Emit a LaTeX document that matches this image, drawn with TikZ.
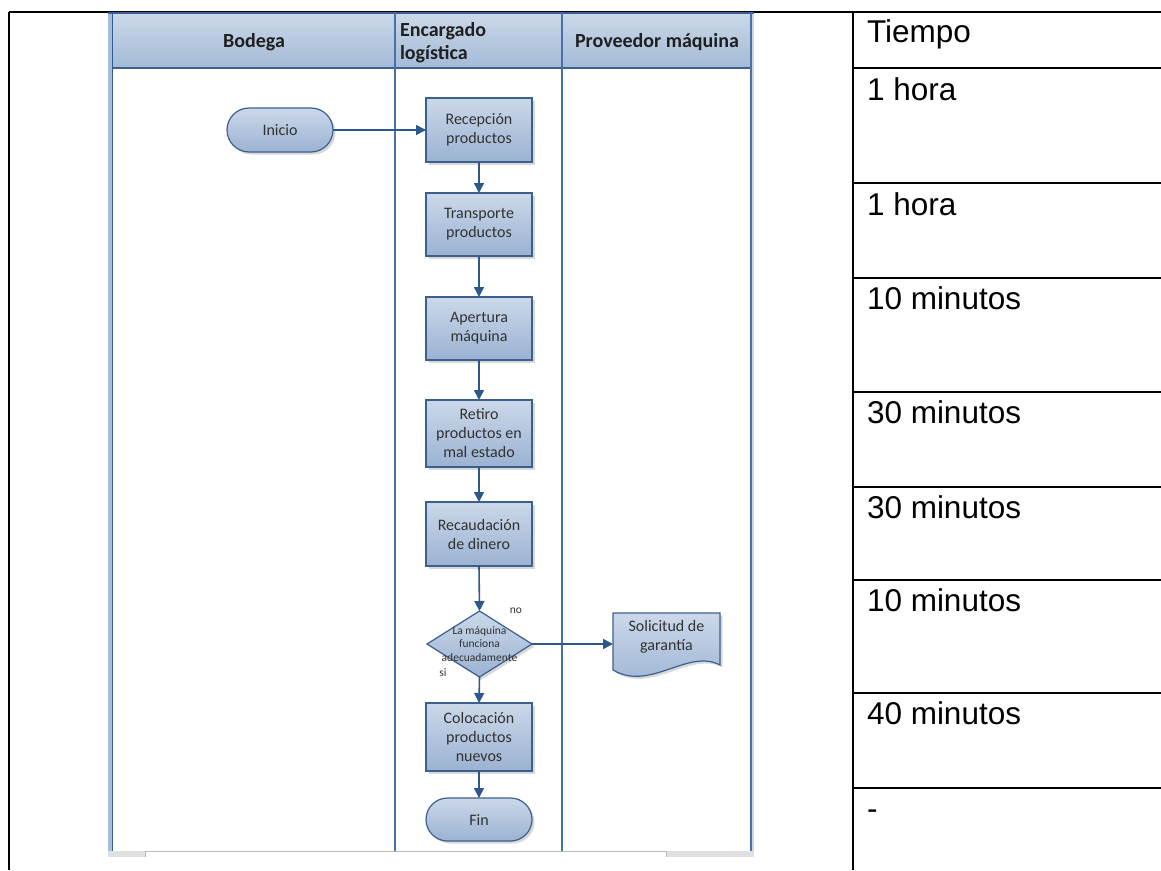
\documentclass[tikz,border=0pt]{standalone}
\usepackage{fontspec}
\setmainfont{Liberation Sans}
\newfontfamily\diagfont{Carlito}
\usetikzlibrary{shapes.geometric,shapes.misc,arrows.meta,shadows}

\definecolor{lanecol}{RGB}{74,112,168}
\definecolor{laneedge}{RGB}{47,90,148}
\definecolor{bandcol}{RGB}{168,189,217}
\definecolor{hdtop}{RGB}{203,216,232}
\definecolor{hdbot}{RGB}{163,186,214}
\definecolor{hdline}{RGB}{60,96,145}
\definecolor{boxtop}{RGB}{203,216,233}
\definecolor{boxbot}{RGB}{155,178,210}
\definecolor{boxline}{RGB}{60,96,142}
\definecolor{flowcol}{RGB}{46,88,140}
\definecolor{txtcol}{RGB}{50,50,50}
\definecolor{bargray}{RGB}{224,224,224}

\begin{document}
\begin{tikzpicture}[x=1pt,y=-1pt,
  every node/.style={inner sep=0pt,outer sep=0pt},
  lane/.style={draw=lanecol,line width=1.2pt},
  grid/.style={draw=black,line width=2pt},
  cell/.style={anchor=base west,font=\fontsize{31.5}{38}\selectfont},
  head/.style={font=\diagfont\bfseries\fontsize{20}{23}\selectfont,text=black!88},
  fillbox/.style={top color=boxtop,bottom color=boxbot,draw=boxline,line width=1.2pt,
     drop shadow={shadow xshift=2.5pt,shadow yshift=-2.5pt,opacity=0.3}},
  boxtext/.style={text=txtcol,font=\diagfont\fontsize{16}{19}\selectfont},
  procbox/.style={fillbox,boxtext,rectangle,minimum width=106pt,align=center},
  termbox/.style={fillbox,boxtext,rounded rectangle,minimum width=106pt,minimum height=44pt},
  decbox/.style={fillbox,diamond,minimum width=105pt,minimum height=66pt},
  smalltext/.style={text=txtcol,font=\diagfont\fontsize{11.5}{13.5}\selectfont},
  flow/.style={draw=flowcol,line width=1.6pt,-{Triangle[length=10pt,width=10pt]}}]

\useasboundingbox (0,0) rectangle (1161,870);

% outer table frame and time column
\draw[grid] (9,12) -- (1161,12);
\draw[grid] (9,12) -- (9,870);
\draw[grid] (853,12) -- (853,870);
\foreach \yy in {68,183,278,392,487,580,693,788}
  \draw[grid] (853,\yy) -- (1161,\yy);

\node[cell] (t0) at (867,42)  {Tiempo};
\node[cell] (t1) at (867,100) {1 hora};
\node[cell] (t2) at (867,215) {1 hora};
\node[cell] (t3) at (867,309) {10 minutos};
\node[cell] (t4) at (867,423) {30 minutos};
\node[cell] (t5) at (867,518) {30 minutos};
\node[cell] (t6) at (867,611) {10 minutos};
\node[cell] (t7) at (867,724) {40 minutos};
\node[cell] (t8) at (867,819) {-};

% swimlane background
\fill[white] (108,12) rectangle (754,858);
\fill[bandcol] (108,12) rectangle (112,851);
\fill[bandcol!60] (751,12) rectangle (754,851);
\path[top color=hdtop,bottom color=hdbot] (112,13) rectangle (751,68);
\draw[hdline,line width=2pt] (108,13) -- (754,13);
\draw[hdline,line width=1.2pt] (112,68) -- (751,68);
\draw[laneedge,line width=1.5pt] (112.5,12) -- (112.5,851);
\draw[lane] (395,12) -- (395,851);
\draw[lane] (562,12) -- (562,851);
\draw[lane] (751,12) -- (751,851);

% scroll bar along the bottom
\fill[bargray] (108,851) rectangle (754,857);
\fill[white] (145,852) rectangle (666,857);
\draw[gray!55,line width=0.8pt] (145,857) -- (145,851.5) -- (666,851.5) -- (666,857);

% lane headers
\node[head] (hb) at (254,42) {Bodega};
\node[head,align=left,anchor=west] (he) at (400,43) {Encargado\\logística};
\node[head] (hp) at (657,42) {Proveedor máquina};

% flow nodes
\node[termbox] (ini) at (280,130) {Inicio};
\node[procbox,minimum height=64pt] (rec) at (479,130) {Recepción\\productos};
\node[procbox,minimum height=63pt] (tra) at (479,224.5) {Transporte\\productos};
\node[procbox,minimum height=63pt] (ape) at (479,328.5) {Apertura\\máquina};
\node[procbox,minimum height=67pt] (ret) at (479,433.5) {Retiro\\productos en\\mal estado};
\node[procbox,minimum height=64pt] (rcd) at (479,534) {Recaudación\\de dinero};
\node[decbox,label={[smalltext,align=center]center:La máquina\\funciona\\adecuadamente}] (dec) at (479.5,644) {};
\node[smalltext] (lno) at (516,611) {no};
\node[smalltext] (lsi) at (443,673) {si};
\node[procbox,minimum height=68pt] (col) at (479,737) {Colocación\\productos\\nuevos};
\node[termbox,minimum height=43pt] (fin) at (479,819.5) {Fin};

% document shape
\path[fillbox] (613,613) -- (720,613) -- (720,665)
  .. controls (688,648) and (650,692) .. (613,670) -- cycle;
\node[boxtext,align=center,minimum width=107pt] (sol) at (666.5,636.5) {Solicitud de\\garantía};

% connectors
\draw[flow] (ini.east) -- (rec.west);
\draw[flow] (rec.south) -- (tra.north);
\draw[flow] (tra.south) -- (ape.north);
\draw[flow] (ape.south) -- (ret.north);
\draw[flow] (ret.south) -- (rcd.north);
\draw[flow] (rcd.south) -- (dec.north);
\draw[flow] (dec.east) -- (dec.east -| sol.west);
\draw[flow] (dec.south) -- (col.north);
\draw[flow] (col.south) -- (fin.north);
\end{tikzpicture}
\end{document}
